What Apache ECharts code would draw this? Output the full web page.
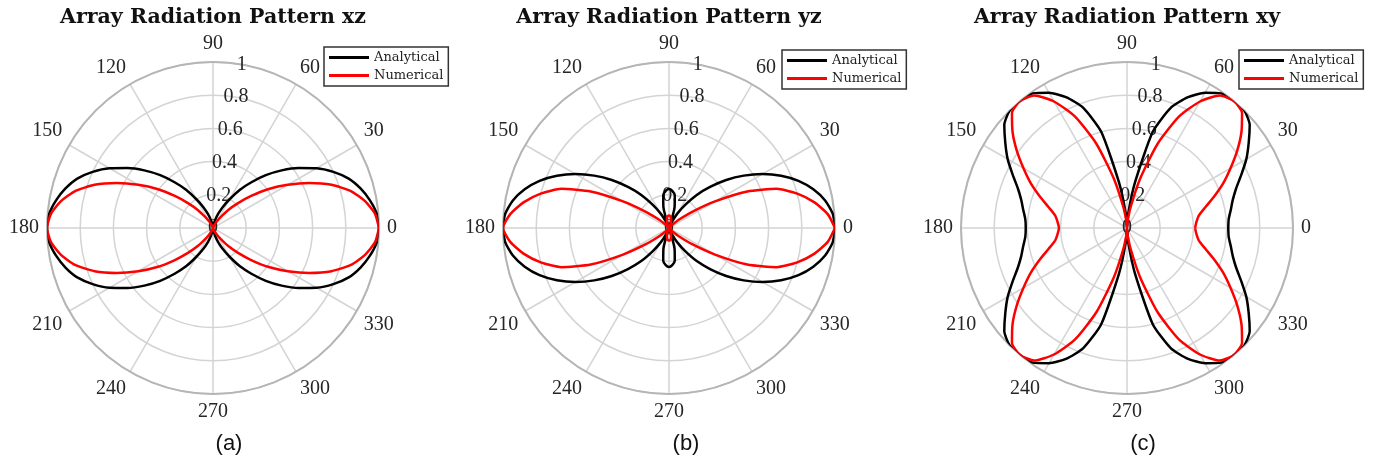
<!DOCTYPE html>
<html>
<head>
<meta charset="utf-8">
<script src="https://cdn.jsdelivr.net/npm/echarts@6/dist/echarts.min.js"></script>
<style>
html, body { margin: 0; padding: 0; background: #fff; }
#container { width: 1380px; height: 464px; }
</style>
</head>
<body>
<div id="container"></div>
<script>
var dom = document.getElementById("container");
var myChart = echarts.init(dom);

// angle in degrees (0..360, every 5)
var angles = [0,5,10,15,20,25,30,35,40,45,50,55,60,65,70,75,80,85,90,
  95,100,105,110,115,120,125,130,135,140,145,150,155,160,165,170,175,180,
  185,190,195,200,205,210,215,220,225,230,235,240,245,250,255,260,265,270,
  275,280,285,290,295,300,305,310,315,320,325,330,335,340,345,350,355,360];

// (a) xz plane
var analyticalXZ = [1,0.99,0.96,0.92,0.87,0.80,0.72,0.63,0.54,0.45,0.36,0.28,0.20,0.14,0.09,0.05,0.02,0.005,0,
  0.005,0.02,0.05,0.09,0.14,0.20,0.28,0.36,0.45,0.54,0.63,0.72,0.80,0.87,0.92,0.96,0.99,1,
  0.99,0.96,0.92,0.87,0.80,0.72,0.63,0.54,0.45,0.36,0.28,0.20,0.14,0.09,0.05,0.02,0.005,0,
  0.005,0.02,0.05,0.09,0.14,0.20,0.28,0.36,0.45,0.54,0.63,0.72,0.80,0.87,0.92,0.96,0.99,1];
var numericalXZ = [1,0.98,0.93,0.86,0.76,0.64,0.52,0.41,0.30,0.21,0.14,0.08,0.045,0.02,0.008,0.002,0,0,0,
  0,0,0.002,0.008,0.02,0.045,0.08,0.14,0.21,0.30,0.41,0.52,0.64,0.76,0.86,0.93,0.98,1,
  0.98,0.93,0.86,0.76,0.64,0.52,0.41,0.30,0.21,0.14,0.08,0.045,0.02,0.008,0.002,0,0,0,
  0,0,0.002,0.008,0.02,0.045,0.08,0.14,0.21,0.30,0.41,0.52,0.64,0.76,0.86,0.93,0.98,1];

// (b) yz plane
var analyticalYZ = [1,0.99,0.955,0.90,0.83,0.745,0.65,0.55,0.45,0.35,0.26,0.17,0.10,0.04,0,0.13,0.20,0.225,0.235,
  0.225,0.20,0.13,0,0.04,0.10,0.17,0.26,0.35,0.45,0.55,0.65,0.745,0.83,0.90,0.955,0.99,1,
  0.99,0.955,0.90,0.83,0.745,0.65,0.55,0.45,0.35,0.26,0.17,0.10,0.04,0,0.13,0.20,0.225,0.235,
  0.225,0.20,0.13,0,0.04,0.10,0.17,0.26,0.35,0.45,0.55,0.65,0.745,0.83,0.90,0.955,0.99,1];
var numericalYZ = [1,0.96,0.89,0.80,0.69,0.52,0.32,0.17,0.08,0.03,0.01,0,0.005,0.015,0.03,0.05,0.065,0.073,0.076,
  0.073,0.065,0.05,0.03,0.015,0.005,0,0.01,0.03,0.08,0.17,0.32,0.52,0.69,0.80,0.89,0.96,1,
  0.96,0.89,0.80,0.69,0.52,0.32,0.17,0.08,0.03,0.01,0,0.005,0.015,0.03,0.05,0.065,0.073,0.076,
  0.073,0.065,0.05,0.03,0.015,0.005,0,0.01,0.03,0.08,0.17,0.32,0.52,0.69,0.80,0.89,0.96,1];

// (c) xy plane
var analyticalXY = [0.61,0.615,0.635,0.66,0.70,0.76,0.83,0.895,0.965,1,1,0.99,0.94,0.87,0.77,0.60,0.28,0.09,0,
  0.09,0.28,0.60,0.77,0.87,0.94,0.99,1,1,0.965,0.895,0.83,0.76,0.70,0.66,0.635,0.615,0.61,
  0.615,0.635,0.66,0.70,0.76,0.83,0.895,0.965,1,1,0.99,0.94,0.87,0.77,0.60,0.28,0.09,0,
  0.09,0.28,0.60,0.77,0.87,0.94,0.99,1,1,0.965,0.895,0.83,0.76,0.70,0.66,0.635,0.615,0.61];
var numericalXY = [0.41,0.42,0.44,0.49,0.56,0.64,0.72,0.81,0.90,0.98,1,0.975,0.88,0.74,0.54,0.31,0.13,0.04,0,
  0.04,0.13,0.31,0.54,0.74,0.88,0.975,1,0.98,0.90,0.81,0.72,0.64,0.56,0.49,0.44,0.42,0.41,
  0.42,0.44,0.49,0.56,0.64,0.72,0.81,0.90,0.98,1,0.975,0.88,0.74,0.54,0.31,0.13,0.04,0,
  0.04,0.13,0.31,0.54,0.74,0.88,0.975,1,0.98,0.90,0.81,0.72,0.64,0.56,0.49,0.44,0.42,0.41];

var angleTicks = [0,30,60,90,120,150,180,210,240,270,300,330,360];
var radiusTicks = [0,0.2,0.4,0.6,0.8,1];
var seriesNames = ['Analytical', 'Numerical'];
var panelTitles = ['Array Radiation Pattern xz', 'Array Radiation Pattern yz', 'Array Radiation Pattern xy'];
var panelCaptions = ['(a)', '(b)', '(c)'];
var patterns = [[analyticalXZ, numericalXZ], [analyticalYZ, numericalYZ], [analyticalXY, numericalXY]];

// layout
var centers = [[213, 228], [669, 228], [1127, 228]];
var plotRadius = 166;
var legendPos = [[324, 47], [782, 50], [1239, 50]];
var captionX = [229, 686, 1143];
var lineColors = ['#000000', '#ff0000'];
var serif = 'Liberation Serif';

var option = {
    backgroundColor: '#fff',
    animation: false,
    polar: [], angleAxis: [], radiusAxis: [],
    legend: [], series: [], graphic: []
};

for (var i = 0; i < 3; i++) {
    option.polar.push({center: centers[i], radius: plotRadius});
    option.angleAxis.push({
        polarIndex: i,
        type: 'value',
        min: angleTicks[0],
        max: angleTicks[angleTicks.length - 1],
        interval: angleTicks[1] - angleTicks[0],
        startAngle: 0,
        clockwise: false,
        axisLine: {lineStyle: {color: '#b5b5b5', width: 2}},
        axisTick: {show: false},
        axisLabel: {margin: 8, fontFamily: serif, fontSize: 20, color: '#262626'},
        splitLine: {show: true, lineStyle: {color: '#d4d4d4', width: 1.5}}
    });
    option.radiusAxis.push({
        polarIndex: i,
        type: 'value',
        min: radiusTicks[0],
        max: radiusTicks[radiusTicks.length - 1],
        interval: radiusTicks[1] - radiusTicks[0],
        axisLine: {show: false},
        axisTick: {show: false},
        axisLabel: {show: false},
        splitLine: {show: true, lineStyle: {color: '#d4d4d4', width: 1.5}}
    });
}
// overlay polars only for the radial tick labels (drawn along 80 deg)
for (i = 0; i < 3; i++) {
    option.polar.push({center: centers[i], radius: plotRadius});
    option.angleAxis.push({
        polarIndex: 3 + i, type: 'value', min: 0, max: 360,
        startAngle: 80, clockwise: false, show: false
    });
    option.radiusAxis.push({
        polarIndex: 3 + i,
        type: 'value',
        min: radiusTicks[0],
        max: radiusTicks[radiusTicks.length - 1],
        interval: radiusTicks[1] - radiusTicks[0],
        axisLine: {show: false},
        axisTick: {show: false},
        splitLine: {show: false},
        axisLabel: {margin: 0, align: 'center', verticalAlign: 'middle', rotate: 0,
            fontFamily: serif, fontSize: 20, color: '#262626'}
    });
}

for (i = 0; i < 3; i++) {
    for (var s = 0; s < 2; s++) {
        var vals = patterns[i][s];
        option.series.push({
            name: seriesNames[s],
            type: 'line',
            coordinateSystem: 'polar',
            polarIndex: i,
            symbol: 'none',
            smooth: 0.2,
            lineStyle: {color: lineColors[s], width: 2.5},
            itemStyle: {color: lineColors[s]},
            data: angles.map(function (a, k) { return [vals[k], a]; })
        });
    }
    option.legend.push({
        data: seriesNames,
        orient: 'vertical',
        left: legendPos[i][0],
        top: legendPos[i][1],
        icon: 'rect',
        padding: [3, 5, 3, 5],
        itemGap: 3,
        itemWidth: 40,
        itemHeight: 3,
        backgroundColor: '#fff',
        borderColor: '#333',
        borderWidth: 1.5,
        selectedMode: false,
        textStyle: {fontFamily: 'DejaVu Serif', fontSize: 13, lineHeight: 15, color: '#222'}
    });
    option.graphic.push({
        type: 'text', x: centers[i][0], y: 18,
        style: {text: panelTitles[i], font: 'bold 20.5px "DejaVu Serif"', fill: '#111',
            align: 'center', verticalAlign: 'middle'}
    });
    option.graphic.push({
        type: 'text', x: captionX[i], y: 444,
        style: {text: panelCaptions[i], font: '22px "Liberation Sans"', fill: '#111',
            align: 'center', verticalAlign: 'middle'}
    });
}

window.onresize = function () {
    myChart.resize();
};
if (option && typeof option === "object") {
    myChart.setOption(option, true);
}
</script>
</body>
</html>
